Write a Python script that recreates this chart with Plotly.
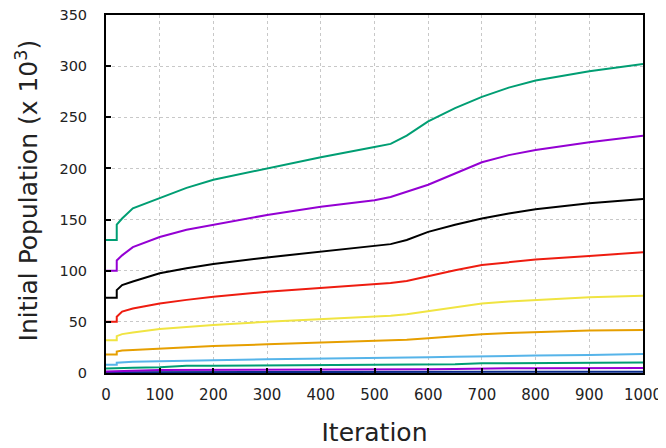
import plotly.graph_objects as go

iterations = [0, 20, 20, 30, 50, 100, 150, 200, 300, 400, 500, 530, 560, 600, 650, 700, 750, 800, 900, 1000]

green_top = [130, 130, 145, 151, 161, 171, 181, 189, 200, 211, 221, 224, 232, 246, 259, 270, 279, 286, 295, 302]
purple_top = [100, 100, 110, 115, 123, 133, 140, 145, 154.5, 162.5, 169, 172, 177, 184, 195, 206, 213, 218, 225.5, 232]
black_line = [73.5, 73.5, 81, 86, 89.5, 97.5, 102.5, 106.5, 113, 118.5, 124, 126, 130, 138, 145, 151, 156, 160, 166, 170]
red_line = [50, 50, 55, 60, 63, 68, 71.5, 74.5, 79.5, 83, 86.5, 88, 90, 95, 100.5, 105.5, 108.5, 111, 114.5, 118]
yellow_line = [32, 32, 36, 38, 39.5, 43, 45, 47, 50, 52.5, 55, 56, 57.5, 60.5, 64.5, 68, 70, 71.5, 74, 75.5]
orange_line = [18, 18, 21, 22, 22.5, 24, 25.5, 26.5, 28, 29.5, 31, 31.5, 32.5, 34, 36, 38, 39, 40, 41.5, 42]
lightblue_line = [8, 8, 10, 10.5, 11, 11.5, 12.2, 12.5, 13.5, 14, 14.5, 14.7, 15, 15.5, 16, 16.5, 16.8, 17, 17.5, 18.5]
green_low = [4.5, 4.5, 5, 5, 5.2, 5.5, 7, 7, 7.2, 7.4, 7.5, 7.6, 7.7, 8, 8.5, 9.5, 9.6, 9.8, 10, 10.2]
purple_low = [1.5, 1.5, 1.8, 2, 2.2, 3, 3, 3, 3.2, 3.3, 3.5, 3.5, 3.6, 3.7, 4, 4.5, 4.6, 4.7, 4.9, 5]
blue_low = [0.8, 0.8, 0.9, 0.9, 0.9, 1, 1, 1, 1, 1, 1.1, 1.1, 1.1, 1.1, 1.1, 1.2, 1.2, 1.2, 1.2, 1.2]

series = [
    ("blue_low", blue_low, "#0a2a8a"),
    ("purple_low", purple_low, "#9400d3"),
    ("green_low", green_low, "#009e73"),
    ("lightblue", lightblue_line, "#56b4e9"),
    ("orange", orange_line, "#e69f00"),
    ("yellow", yellow_line, "#f0e442"),
    ("red", red_line, "#ee1c10"),
    ("black", black_line, "#000000"),
    ("purple", purple_top, "#9400d3"),
    ("green", green_top, "#009e73"),
]

x_ticks = list(range(0, 1001, 100))
y_ticks = list(range(0, 351, 50))

fig = go.Figure()
for name, vals, col in series:
    fig.add_trace(go.Scatter(x=iterations, y=vals, mode="lines", name=name,
                             line=dict(color=col, width=2)))

font_family = "DejaVu Sans"
# page body has an 8px margin, so the figure is offset by 8px; margins compensate
fig.update_layout(
    width=666, height=448,
    margin=dict(l=98, r=31, t=7, b=83, autoexpand=False),
    paper_bgcolor="white", plot_bgcolor="white",
    showlegend=False,
    font=dict(family=font_family, color="#222222"),
)
fig.update_xaxes(
    range=[0, 1000], tickvals=x_ticks, ticktext=[str(v) for v in x_ticks],
    automargin=False, ticklabeloverflow="allow",
    showline=True, linecolor="black", linewidth=2, mirror=True,
    ticks="inside", ticklen=5, tickwidth=2, tickcolor="black",
    showgrid=True, gridcolor="#c8c8c8", griddash="dot", gridwidth=1,
    zeroline=False, tickfont=dict(size=15, family=font_family, color="#222222"),
    ticklabelstandoff=7,
    title=dict(text="Iteration", font=dict(size=25, family=font_family, color="#222222"), standoff=20),
)
fig.update_yaxes(
    range=[0, 350], tickvals=y_ticks, ticktext=[str(v) for v in y_ticks],
    automargin=False, ticklabeloverflow="allow",
    showline=True, linecolor="black", linewidth=2, mirror=True,
    ticks="inside", ticklen=5, tickwidth=2, tickcolor="black",
    showgrid=True, gridcolor="#c8c8c8", griddash="dot", gridwidth=1,
    zeroline=False, tickfont=dict(size=14.5, family=font_family, color="#222222"),
    ticklabelstandoff=14,
)
fig.add_annotation(
    text="Initial Population (x 10<sup>3</sup>)",
    xref="paper", yref="paper", x=-0.147, y=0.51,
    xanchor="center", yanchor="middle", textangle=-90, showarrow=False,
    font=dict(size=25, family=font_family, color="#222222"),
)

fig.write_html("out.html")
